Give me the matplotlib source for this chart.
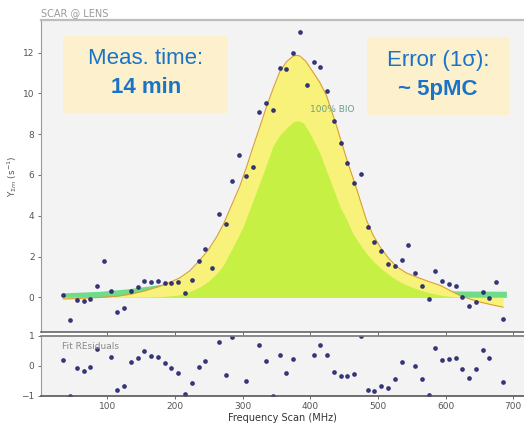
import numpy as np
import matplotlib
matplotlib.use("Agg")
import matplotlib.pyplot as plt
from matplotlib.patches import Rectangle

# measured points, one every 10 MHz
freq = np.arange(35, 686, 10)
counts = [0.11, -1.1, -0.13, -0.2, -0.1, 0.54, 1.8, 0.33, -0.71, -0.53,
          0.33, 0.5, 0.82, 0.74, 0.82, 0.7, 0.7, 0.74, 0.23, 0.86,
          1.77, 2.35, 1.42, 4.1, 3.62, 5.68, 6.96, 5.93, 6.37, 9.09,
          9.53, 9.2, 11.24, 11.2, 12.0, 12.99, 10.39, 11.54, 11.3, 10.12,
          8.66, 7.57, 6.57, 5.6, 6.06, 3.44, 2.7, 2.26, 1.63, 1.56,
          1.81, 2.58, 1.2, 0.54, -0.08, 1.3, 0.79, 0.66, 0.54, 0.0,
          -0.4, -0.25, 0.26, -0.05, 0.74, -1.04]
resid = [0.18, -1.0, -0.08, -0.17, -0.05, 0.55, 1.7, 0.29, -0.8, -0.66,
         0.13, 0.26, 0.5, 0.34, 0.29, 0.08, -0.08, -0.24, -0.95, -0.58,
         -0.05, 0.16, -1.3, 0.81, -0.31, 0.96, 1.6, -0.51, -1.2, 0.68,
         0.15, -1.0, 0.35, -0.24, 0.24, 1.5, -1.3, 0.35, 0.71, 0.35,
         -0.2, -0.35, -0.33, -0.28, 0.98, -0.81, -0.83, -0.66, -0.75, -0.42,
         0.14, 1.3, 0.0, -0.44, -0.97, 0.58, 0.2, 0.22, 0.27, -0.1,
         -0.4, -0.1, 0.52, 0.27, 1.1, -0.55]

# total fit curve
fit_x = [35, 60, 90, 115, 135, 155, 175, 190, 207, 222, 237, 250, 262, 272,
         281, 296, 306, 316, 326, 336, 346, 355, 365, 375, 380, 385, 394,
         404, 414, 424, 439, 454, 469, 483, 493, 503, 515, 528, 542, 557,
         575, 592, 606, 621, 636, 651, 668, 685]
fit_y = [-0.08, -0.05, 0.0, 0.06, 0.16, 0.32, 0.52, 0.7, 0.95, 1.3, 1.83,
         2.35, 2.98, 3.6, 4.3, 5.45, 6.4, 7.42, 8.4, 9.4, 10.3, 11.05, 11.55,
         11.83, 11.86, 11.83, 11.55, 11.05, 10.55, 9.9, 8.4, 6.77, 5.28, 3.8,
         3.05, 2.49, 1.95, 1.5, 1.2, 1.0, 0.78, 0.59, 0.35, 0.1, -0.08, -0.23,
         -0.36, -0.48]

# 100% BIO component
bio_x = [120, 160, 185, 207, 222, 237, 250, 262, 272, 281, 291, 301, 316,
         331, 345, 355, 365, 375, 382, 390, 399, 414, 429, 444, 454, 463,
         473, 483, 495, 508, 522, 537, 555, 572, 590, 611, 630]
bio_y = [0.0, 0.02, 0.05, 0.12, 0.28, 0.51, 0.8, 1.17, 1.6, 2.16, 2.8, 3.47,
         4.79, 6.1, 7.42, 7.95, 8.3, 8.6, 8.66, 8.55, 8.08, 7.1, 5.78, 4.46,
         3.8, 3.14, 2.62, 2.16, 1.7, 1.33, 0.98, 0.68, 0.44, 0.26, 0.12,
         0.03, 0.0]

# background band
bg_x = [35, 90, 130, 160, 190, 220, 560, 600, 640, 690]
bg_y = [0.22, 0.3, 0.42, 0.55, 0.68, 0.75, 0.4, 0.32, 0.31, 0.3]

fig = plt.figure(figsize=(5.24, 4.23), dpi=100)
ax = fig.add_axes([0.078, 0.215, 0.922, 0.738])
axr = fig.add_axes([0.078, 0.064, 0.922, 0.142], sharex=ax)

for a in (ax, axr):
    a.set_facecolor('#f3f3f3')
    a.spines['right'].set_visible(False)
    a.spines['left'].set_color('#999999')
    a.tick_params(labelsize=6.5, colors='#555555', length=2.5, width=0.6, pad=2)
ax.spines['top'].set_color('#bdbdbd')
ax.spines['top'].set_linewidth(1.6)
ax.spines['bottom'].set_color('#666666')
ax.spines['bottom'].set_linewidth(1.2)
axr.spines['top'].set_color('#777777')
axr.spines['top'].set_linewidth(1.2)
axr.spines['bottom'].set_color('#555555')
axr.spines['bottom'].set_linewidth(1.2)

ax.fill_between(bg_x, 0, bg_y, color='#6fdc8c', lw=0, zorder=1)
ax.fill_between(fit_x, 0, fit_y, color='#f8f27a', lw=0, zorder=2)
ax.fill_between(bio_x, 0, bio_y, color='#c6f044', lw=0, zorder=3)
ax.plot(fit_x, fit_y, color='#d9a030', lw=0.8, zorder=4)
ax.plot(freq, counts, 'o', color='#23236e', ms=2.4, alpha=0.85, zorder=5)

ax.text(432, 9.2, '100% BIO', fontsize=6.5, color='#6a9d8a', ha='center', va='center')

ax.set_xlim(2, 716)
ax.set_ylim(-1.7, 13.6)
ax.set_yticks([0, 2, 4, 6, 8, 10, 12])
ax.set_xticks([100, 200, 300, 400, 500, 600, 700])
ax.tick_params(axis='x', labelbottom=False)
ax.set_ylabel(r'Y$_{\Sigma m}$ (s$^{-1}$)', fontsize=6.5, color='#555555', labelpad=3)

axr.plot(freq, resid, 'o', color='#23236e', ms=2.4, alpha=0.85)
axr.set_ylim(-1, 1)
axr.set_yticks([-1, 0, 1])
axr.set_xlabel('Frequency Scan (MHz)', fontsize=7, color='#333333', labelpad=1)
axr.text(0.043, 0.82, 'Fit REsiduals', transform=axr.transAxes, fontsize=6.5,
         color='#888888', va='center')

fig.text(0.078, 0.969, 'SCAR @ LENS', fontsize=7, color='#999999', va='center')

# info boxes
fig.patches.append(Rectangle((0.120, 0.733), 0.315, 0.182, transform=fig.transFigure,
                             facecolor='#fdf0cd', edgecolor='none', zorder=10))
fig.patches.append(Rectangle((0.700, 0.728), 0.273, 0.184, transform=fig.transFigure,
                             facecolor='#fdf0cd', edgecolor='none', zorder=10))
blue = '#1a73c6'
fig.text(0.278, 0.861, 'Meas. time:', fontsize=16, color=blue, ha='center', va='center',
         family='Liberation Sans', zorder=11)
fig.text(0.278, 0.793, '14 min', fontsize=16, color=blue, ha='center', va='center',
         family='Liberation Sans', fontweight='bold', zorder=11)
fig.text(0.836, 0.857, 'Error (1σ):', fontsize=16, color=blue, ha='center', va='center',
         family='Liberation Sans', zorder=11)
fig.text(0.836, 0.789, '~ 5pMC', fontsize=16, color=blue, ha='center', va='center',
         family='Liberation Sans', fontweight='bold', zorder=11)

fig.savefig('out.png', dpi=100)
